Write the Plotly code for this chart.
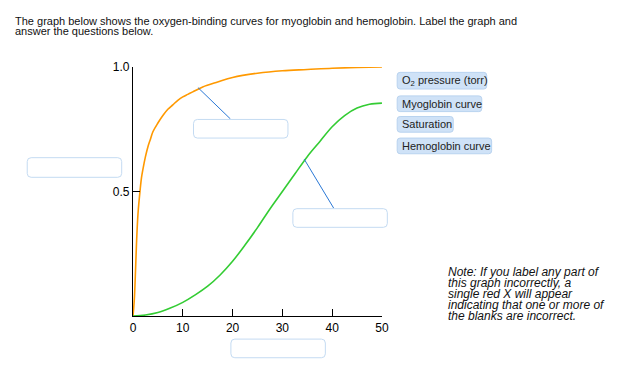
import plotly.graph_objects as go

W, H = 629, 370
OFF = 8  # default page margin of the HTML body
FW, FH = W - OFF, H - OFF

# Data
pressure_myo = [0, 0.15, 0.3, 0.5, 0.7, 1.0, 1.4, 1.7, 2.0, 2.5, 3.0, 3.5, 4.0, 5.0, 6.0, 7.0, 8.0, 9.0,
                10, 11, 12, 14, 17, 20, 25, 30, 35, 40, 45, 50]
sat_myo = [0, 0.035, 0.08, 0.18, 0.29, 0.41, 0.50, 0.555, 0.59, 0.64, 0.68, 0.71, 0.74, 0.775, 0.805, 0.83, 0.848, 0.866,
           0.88, 0.89, 0.90, 0.92, 0.94, 0.958, 0.975, 0.985, 0.99, 0.995, 0.998, 1.0]

pressure_hb = [0, 2.5, 5, 7.5, 10, 12.5, 15, 17.5, 20, 22.5, 25, 27.5, 30, 32.5, 35, 37.5, 40, 42.5, 45, 47.5, 50]
sat_hb = [0, 0.004, 0.014, 0.032, 0.055, 0.085, 0.12, 0.165, 0.22, 0.285, 0.355, 0.43, 0.50, 0.57, 0.64, 0.70, 0.76, 0.805, 0.835, 0.85, 0.855]

x_ticks = [0, 10, 20, 30, 40, 50]
y_ticks = [0.5, 1.0]
y_tick_labels = ["0.5", "1.0"]

tag_labels = ["O<sub>2</sub> pressure (torr)", "Myoglobin curve", "Saturation", "Hemoglobin curve"]

title_lines = [
    "The graph below shows the oxygen-binding curves for myoglobin and hemoglobin. Label the graph and",
    "answer the questions below.",
]
note_lines = [
    "Note: If you label any part of",
    "this graph incorrectly, a",
    "single red X will appear",
    "indicating that one or more of",
    "the blanks are incorrect.",
]

FONT = "Liberation Sans, Arial, sans-serif"


def px(x):
    return (x - OFF) / FW


def py(y):
    return 1 - (y - OFF) / FH


def rounded_rect(x0, y0, x1, y1, r):
    def P(x, y):
        return f"{px(x):.5f},{py(y):.5f}"
    return (
        f"M {P(x0 + r, y0)} L {P(x1 - r, y0)} Q {P(x1, y0)} {P(x1, y0 + r)} "
        f"L {P(x1, y1 - r)} Q {P(x1, y1)} {P(x1 - r, y1)} "
        f"L {P(x0 + r, y1)} Q {P(x0, y1)} {P(x0, y1 - r)} "
        f"L {P(x0, y0 + r)} Q {P(x0, y0)} {P(x0 + r, y0)} Z"
    )


fig = go.Figure()
fig.add_trace(go.Scatter(x=pressure_myo, y=sat_myo, mode="lines",
                         line=dict(color="#ff9900", width=1.6, shape="spline", smoothing=1.0),
                         hoverinfo="skip", showlegend=False))
fig.add_trace(go.Scatter(x=pressure_hb, y=sat_hb, mode="lines",
                         line=dict(color="#33cc33", width=1.6, shape="spline", smoothing=1.0),
                         hoverinfo="skip", showlegend=False))

shapes = []
annotations = []

# connectors
for (x0, y0, x1, y1) in [(198, 82, 231, 114), (306, 155, 336, 205)]:
    shapes.append(dict(type="line", xref="paper", yref="paper",
                       x0=px(x0), y0=py(y0), x1=px(x1), y1=py(y1),
                       line=dict(color="#2a78d6", width=1)))

# blank answer boxes
for (x0, y0, x1, y1) in [(193, 114, 289, 133), (294, 205, 390, 224), (24, 153, 120, 173), (231, 338, 327, 357)]:
    shapes.append(dict(type="path", xref="paper", yref="paper",
                       path=rounded_rect(x0 + 0.5, y0 + 0.5, x1 + 0.5, y1 + 0.5, 4),
                       fillcolor="white", line=dict(color="#c4dbf2", width=1), layer="above"))

# label tags
tag_boxes = [(400, 66, 491, 83), (400, 90, 486, 106), (400, 111, 457, 127), (400, 133, 496, 149)]
for lab, (x0, y0, x1, y1) in zip(tag_labels, tag_boxes):
    shapes.append(dict(type="path", xref="paper", yref="paper",
                       path=rounded_rect(x0 + 0.5, y0 + 0.5, x1 + 0.5, y1 + 0.5, 3),
                       fillcolor="#cfe2f7", line=dict(color="#b9d3ef", width=1), layer="above"))
    annotations.append(dict(xref="paper", yref="paper", x=px(x0 + 3), y=py((y0 + y1) / 2 + 0.5),
                            xanchor="left", yanchor="middle", text=lab, showarrow=False,
                            font=dict(family=FONT, size=11, color="#222222")))

# title
for i, t in enumerate(title_lines):
    annotations.append(dict(xref="paper", yref="paper", x=px(10), y=py(14 + i * 10.5),
                            xanchor="left", yanchor="middle", text=t, showarrow=False,
                            font=dict(family=FONT, size=11, color="#111111")))

# note
for i, t in enumerate(note_lines):
    annotations.append(dict(xref="paper", yref="paper", x=px(450), y=py(270 + i * 11.2),
                            xanchor="left", yanchor="middle", text=f"<i>{t}</i>", showarrow=False,
                            font=dict(family=FONT, size=12, color="#111111")))

fig.update_layout(
    width=FW, height=FH,
    margin=dict(l=0, r=0, t=0, b=0),
    paper_bgcolor="white", plot_bgcolor="white",
    showlegend=False,
    shapes=shapes, annotations=annotations,
    xaxis=dict(domain=[px(132), px(385)], range=[0, 50], tickvals=x_ticks,
               ticks="inside", ticklen=7, tickcolor="black", tickwidth=1,
               showline=True, linecolor="black", linewidth=1.3, showgrid=False, zeroline=False,
               tickfont=dict(family=FONT, size=12, color="black"), fixedrange=True),
    yaxis=dict(domain=[py(315), py(61)], range=[0, 1.0], tickvals=y_ticks, ticktext=y_tick_labels,
               ticks="inside", ticklen=7, tickcolor="black", tickwidth=1,
               showline=True, linecolor="black", linewidth=1.3, showgrid=False, zeroline=False,
               tickfont=dict(family=FONT, size=12, color="black"), fixedrange=True),
)

fig.write_html("out.html", config={"displayModeBar": False})
